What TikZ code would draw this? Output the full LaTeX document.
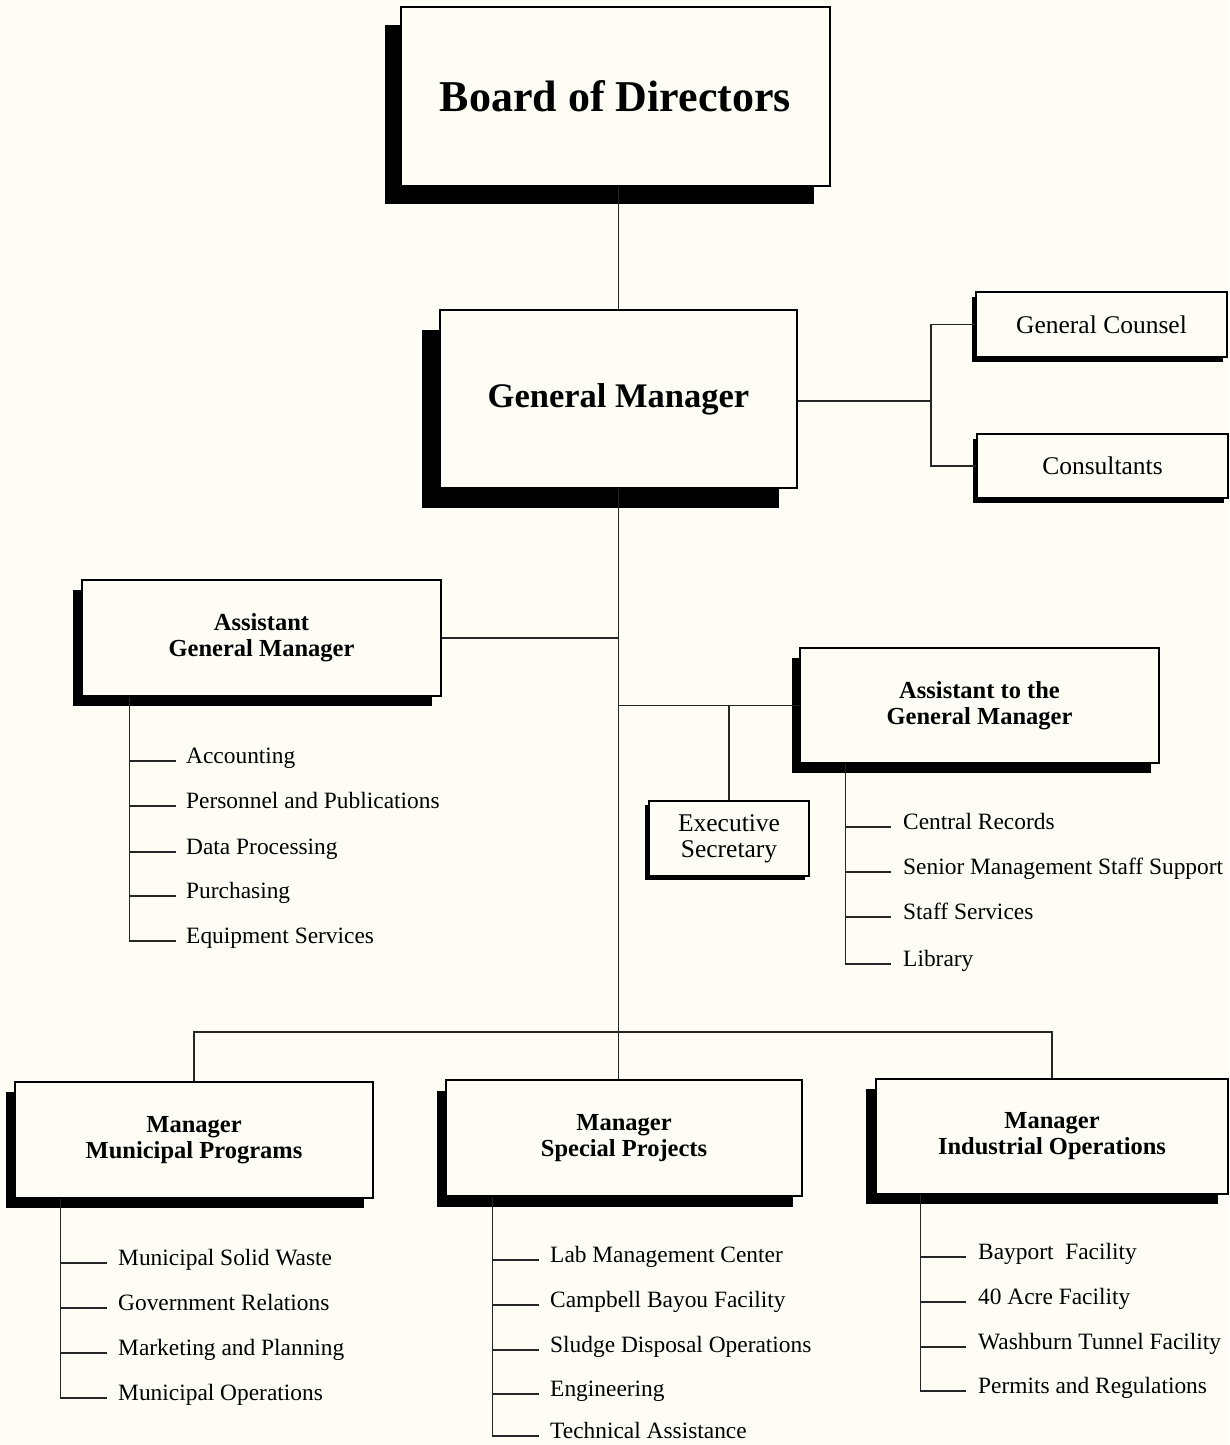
\documentclass[tikz,border=0pt]{standalone}
\usepackage{fontspec}
\setmainfont{Liberation Serif}
\usetikzlibrary{shadows}
\definecolor{paper}{RGB}{253,252,245}
\tikzset{
  box/.style={draw=black, line width=1.5pt, fill=paper, inner sep=0pt, align=center, text=black},
  shad/.style n args={2}{drop shadow={shadow xshift=#1, shadow yshift=#2, opacity=1, fill=black, draw=none}},
  hfont/.style={font=\fontsize{24.5}{26}\selectfont\bfseries},
  rfont/.style={font=\fontsize{25.5}{26}\selectfont},
  item/.style={anchor=mid west, inner sep=0pt, font=\fontsize{23.4}{26}\selectfont},
  conn/.style={line width=1.1pt, draw=black!85}
}
\begin{document}
\begin{tikzpicture}[x=1pt, y=-1pt]
\useasboundingbox (0,0) rectangle (1229,1445);
\fill[paper] (0,0) rectangle (1229,1445);

% boxes
\node[box, shad={-16pt}{-18pt}, minimum width=429pt, minimum height=179pt, font=\fontsize{44}{46}\selectfont\bfseries] (bod) at (615.5,96.5) {Board of Directors};
\node[box, shad={-18pt}{-20pt}, minimum width=357pt, minimum height=178pt, font=\fontsize{34.5}{38}\selectfont\bfseries] (gm) at (618.5,399) {General Manager};
\node[box, shad={-4pt}{-5pt}, minimum width=251pt, minimum height=65pt, rfont] (gc) at (1101.5,324.5) {General Counsel};
\node[box, shad={-4pt}{-5pt}, minimum width=251pt, minimum height=64pt, rfont] (cons) at (1102.5,466) {Consultants};
\node[box, shad={-9pt}{-10pt}, minimum width=359pt, minimum height=116pt, hfont] (agm) at (261.5,638) {Assistant\\General Manager};
\node[box, shad={-8pt}{-10pt}, minimum width=359pt, minimum height=115pt, hfont] (atgm) at (979.5,705.5) {Assistant to the\\General Manager};
\node[box, shad={-4pt}{-4pt}, minimum width=160pt, minimum height=75pt, rfont] (es) at (729,838.5) {Executive\\Secretary};
\node[box, shad={-9pt}{-10pt}, minimum width=358pt, minimum height=116pt, hfont] (mmp) at (194,1140) {Manager\\Municipal Programs};
\node[box, shad={-9pt}{-11pt}, minimum width=356pt, minimum height=116pt, hfont] (msp) at (624,1138) {Manager\\Special Projects};
\node[box, shad={-10pt}{-10pt}, minimum width=352pt, minimum height=115pt, hfont] (mio) at (1052,1136.5) {Manager\\Industrial Operations};

% main connectors
\draw[conn] (gm.north) -- (gm.north |- bod.south);
\coordinate (jr) at (931,401);
\draw[conn] (gm.east |- jr) -- (jr);
\draw[conn] (gc.west) -| (jr |- cons.west) -- (cons.west);
\draw[conn] (gm.south) -- (gm.south |- msp.north);
\draw[conn] (agm.east) -- (agm.east -| gm.south);
\draw[conn] (atgm.west) -- (atgm.west -| gm.south);
\draw[conn] (es.north) -- (es.north |- atgm.west);
\coordinate (bar) at (618.5,1032);
\draw[conn] (mmp.north) |- (bar) -| (mio.north);

% AGM list
\node[item] (a1) at (186,761) {Accounting};
\node[item] (a2) at (186,806) {Personnel and Publications};
\node[item] (a3) at (186,852) {Data Processing};
\node[item] (a4) at (186,896) {Purchasing};
\node[item] (a5) at (186,941) {Equipment Services};
\coordinate (agmv) at ([xshift=48pt]agm.south west);
\draw[conn] (agmv) |- ([xshift=-10pt]a5.mid west);
\foreach \i in {1,...,4} \draw[conn] (agmv |- a\i.mid west) -- ([xshift=-10pt]a\i.mid west);

% ATGM list
\node[item] (b1) at (903,827) {Central Records};
\node[item] (b2) at (903,872) {Senior Management Staff Support};
\node[item] (b3) at (903,917) {Staff Services};
\node[item] (b4) at (903,964) {Library};
\coordinate (atgmv) at ([xshift=46pt]atgm.south west);
\draw[conn] (atgmv) |- ([xshift=-12pt]b4.mid west);
\foreach \i in {1,...,3} \draw[conn] (atgmv |- b\i.mid west) -- ([xshift=-12pt]b\i.mid west);

% MMP list
\node[item] (c1) at (118,1263) {Municipal Solid Waste};
\node[item] (c2) at (118,1308) {Government Relations};
\node[item] (c3) at (118,1353) {Marketing and Planning};
\node[item] (c4) at (118,1398) {Municipal Operations};
\coordinate (mmpv) at ([xshift=46pt]mmp.south west);
\draw[conn] (mmpv) |- ([xshift=-11pt]c4.mid west);
\foreach \i in {1,...,3} \draw[conn] (mmpv |- c\i.mid west) -- ([xshift=-11pt]c\i.mid west);

% MSP list
\node[item] (d1) at (550,1260) {Lab Management Center};
\node[item] (d2) at (550,1305) {Campbell Bayou Facility};
\node[item] (d3) at (550,1350) {Sludge Disposal Operations};
\node[item] (d4) at (550,1394) {Engineering};
\node[item] (d5) at (550,1436) {Technical Assistance};
\coordinate (mspv) at ([xshift=47pt]msp.south west);
\draw[conn] (mspv) |- ([xshift=-11pt]d5.mid west);
\foreach \i in {1,...,4} \draw[conn] (mspv |- d\i.mid west) -- ([xshift=-11pt]d\i.mid west);

% MIO list
\node[item] (e1) at (978,1257) {Bayport\ \ Facility};
\node[item] (e2) at (978,1302) {40 Acre Facility};
\node[item] (e3) at (978,1347) {Washburn Tunnel Facility};
\node[item] (e4) at (978,1391) {Permits and Regulations};
\coordinate (miov) at ([xshift=45pt]mio.south west);
\draw[conn] (miov) |- ([xshift=-12pt]e4.mid west);
\foreach \i in {1,...,3} \draw[conn] (miov |- e\i.mid west) -- ([xshift=-12pt]e\i.mid west);
\end{tikzpicture}
\end{document}
